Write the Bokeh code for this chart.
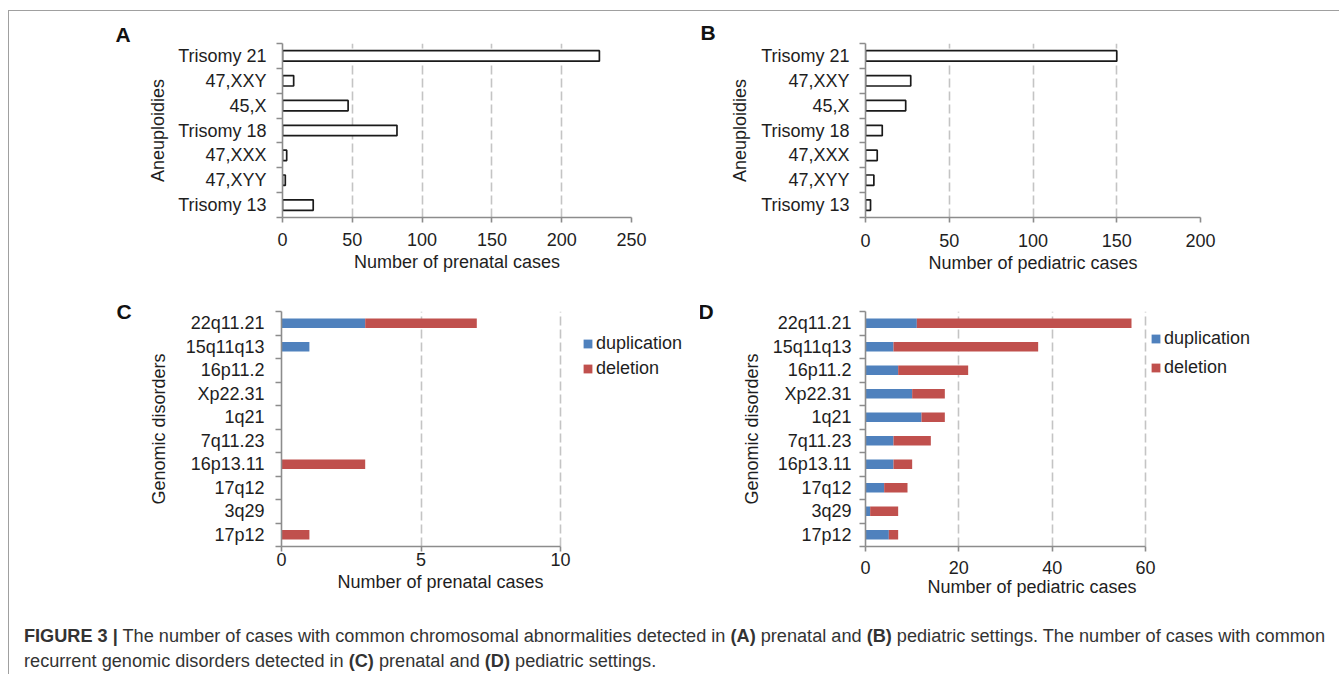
from bokeh.plotting import figure
from bokeh.models import Range1d, FixedTicker, Legend, LegendItem, Div, ColumnDataSource, Title
from bokeh.layouts import column, row
from bokeh.embed import file_html
from bokeh.resources import INLINE

# ---------------- data ----------------
aneuploidies = ["Trisomy 21", "47,XXY", "45,X", "Trisomy 18", "47,XXX", "47,XYY", "Trisomy 13"]
prenatal_aneuploidy = [227, 8, 47, 82, 3, 2, 22]
pediatric_aneuploidy = [150, 27, 24, 10, 7, 5, 3]

disorders = ["22q11.21", "15q11q13", "16p11.2", "Xp22.31", "1q21", "7q11.23",
             "16p13.11", "17q12", "3q29", "17p12"]
prenatal_dup = [3, 1, 0, 0, 0, 0, 0, 0, 0, 0]
prenatal_del = [4, 0, 0, 0, 0, 0, 3, 0, 0, 1]
pediatric_dup = [11, 6, 7, 10, 12, 6, 6, 4, 1, 5]
pediatric_del = [46, 31, 15, 7, 5, 8, 4, 5, 6, 2]

ticks_A = [0, 50, 100, 150, 200, 250]
ticks_B = [0, 50, 100, 150, 200]
ticks_C = [0, 5, 10]
ticks_D = [0, 20, 40, 60]

FONT = "Liberation Sans"
TXT = "#1e1e1e"
AX = "#8c8c8c"
GRID = "#c4c4c4"
BLUE = "#4f81bd"
RED = "#c0504d"


def base_panel(cats, xticks, width, height, bl, br, bt, bb, axis_px, frame_px,
               ytitle, xtitle, ylab_standoff, ytitle_standoff, xlab_standoff, xtitle_standoff,
               letter, letter_offset, letter_standoff, xtitle_offset=None):
    n = len(cats)
    centers = [n - i - 0.5 for i in range(n)]
    # the frame may be wider than the drawn axis (room for a legend); the axis keeps its length
    x_end = xticks[-1] * frame_px / axis_px
    p = figure(width=width, height=height, output_backend="svg", toolbar_location=None,
               x_range=Range1d(0, x_end), y_range=Range1d(0, n),
               min_border_left=bl, min_border_right=br, min_border_top=bt, min_border_bottom=bb)
    p.outline_line_color = None
    p.background_fill_color = None
    p.border_fill_color = None
    p.ygrid.visible = False
    p.xgrid.ticker = FixedTicker(ticks=xticks)
    p.xgrid.grid_line_color = GRID
    p.xgrid.grid_line_width = 1.6
    p.xgrid.grid_line_dash = "9 4"

    p.title.text = letter
    p.title.align = "left"
    p.title.offset = letter_offset
    p.title.standoff = letter_standoff
    p.title.text_font = FONT
    p.title.text_font_size = "21px"
    p.title.text_font_style = "bold"
    p.title.text_color = "#111111"
    p.title.vertical_align = "bottom"

    xa = p.xaxis[0]
    xa.bounds = (xticks[0], xticks[-1])
    xa.ticker = FixedTicker(ticks=xticks)
    xa.axis_line_color = AX
    xa.axis_line_width = 1.6
    xa.major_tick_line_color = AX
    xa.major_tick_line_width = 1.6
    xa.major_tick_out = 5
    xa.major_tick_in = 0
    xa.minor_tick_line_color = None
    xa.major_label_text_font = FONT
    xa.major_label_text_font_size = "18px"
    xa.major_label_text_color = TXT
    xa.major_label_standoff = xlab_standoff
    if xtitle_offset is None:
        xa.axis_label = xtitle
        xa.axis_label_text_font = FONT
        xa.axis_label_text_font_size = "18px"
        xa.axis_label_text_font_style = "normal"
        xa.axis_label_text_color = TXT
        xa.axis_label_standoff = xtitle_standoff
    else:
        # axis title placed under the drawn part of the axis (the frame extends further right)
        p.add_layout(Title(text=xtitle, align="left", offset=xtitle_offset,
                           standoff=xtitle_standoff, text_font=FONT, text_font_size="18px",
                           text_font_style="normal", text_color=TXT), "below")

    ya = p.yaxis[0]
    ya.ticker = FixedTicker(ticks=centers, minor_ticks=list(range(n + 1)))
    ya.major_label_overrides = {c: name for c, name in zip(centers, cats)}
    ya.axis_line_color = AX
    ya.axis_line_width = 1.6
    ya.major_tick_line_color = None
    ya.major_tick_out = 0
    ya.major_tick_in = 0
    ya.minor_tick_line_color = AX
    ya.minor_tick_line_width = 1.6
    ya.minor_tick_out = 6
    ya.minor_tick_in = 0
    ya.major_label_text_font = FONT
    ya.major_label_text_font_size = "18px"
    ya.major_label_text_color = TXT
    ya.major_label_standoff = ylab_standoff
    ya.axis_label = ytitle
    ya.axis_label_text_font = FONT
    ya.axis_label_text_font_size = "18px"
    ya.axis_label_text_font_style = "normal"
    ya.axis_label_text_color = TXT
    ya.axis_label_standoff = ytitle_standoff
    return p, centers


def simple_bars(p, centers, vals):
    src = ColumnDataSource(dict(y=centers, right=vals))
    p.hbar(y="y", left=0, right="right", height=0.42, source=src,
           fill_color="white", line_color="#1a1a1a", line_width=1.7)


def stacked_bars(p, centers, dup, dele, legend_xy, spacing):
    src = ColumnDataSource(dict(y=centers, dup=dup, dele=dele,
                                tot=[a + b for a, b in zip(dup, dele)]))
    r1 = p.hbar(y="y", left=0, right="dup", height=0.4, source=src,
                fill_color=BLUE, line_color=None)
    r2 = p.hbar(y="y", left="dup", right="tot", height=0.4, source=src,
                fill_color=RED, line_color=None)
    leg = Legend(items=[LegendItem(label="duplication", renderers=[r1]),
                        LegendItem(label="deletion", renderers=[r2])],
                 location=legend_xy, orientation="vertical",
                 glyph_width=11, glyph_height=11, label_standoff=3,
                 label_text_font=FONT, label_text_font_size="18px", label_text_color=TXT,
                 border_line_color=None, background_fill_alpha=0,
                 padding=0, margin=0, spacing=spacing, label_height=16)
    p.add_layout(leg)


# Panel A
pA, cA = base_panel(aneuploidies, ticks_A, 691, 279, 273, 69, 32, 70, 349, 349,
                    "Aneuploidies", "Number of prenatal cases", 10, 7, 10, 3,
                    "A", -167, -4)
simple_bars(pA, cA, prenatal_aneuploidy)

# Panel B
pB, cB = base_panel(aneuploidies, ticks_B, 634, 279, 165, 134, 29, 73, 335, 335,
                    "Aneuploidies", "Number of pediatric cases", 10, 8, 11, 3,
                    "B", -165, 0)
simple_bars(pB, cB, pediatric_aneuploidy)

# Panel C
pC, cC = base_panel(disorders, ticks_C, 691, 310, 272, 4, 20, 54, 279, 415,
                    "Genomic disorders", "Number of prenatal cases", 11, 14, 1, 2,
                    "C", -165, -23, xtitle_offset=56)
stacked_bars(pC, cC, prenatal_dup, prenatal_del, (301, 167), 4)

# Panel D
pD, cD = base_panel(disorders, ticks_D, 634, 310, 165, 4, 21, 54, 280, 465,
                    "Genomic disorders", "Number of pediatric cases", 8, 8, 9, -3,
                    "D", -167, -23, xtitle_offset=62)
stacked_bars(pD, cD, pediatric_dup, pediatric_del, (285, 168), 8)

caption = Div(
    text=('<div style="font-family: \'Liberation Sans\', Arial, sans-serif; font-size: 18.15px; '
          'color: #333; line-height: 25px; white-space: nowrap; padding: 19px 0 0 10px;">'
          '<b>FIGURE 3 |</b> The number of cases with common chromosomal abnormalities detected in '
          '<b>(A)</b> prenatal and <b>(B)</b> pediatric settings. The number of cases with common<br>'
          'recurrent genomic disorders detected in <b>(C)</b> prenatal and <b>(D)</b> pediatric settings.'
          '</div>'),
    width=1320, height=64)

layout = column(row(pA, pB), row(pC, pD), caption,
                styles={"border-top": "1px solid #a0a0a0", "border-left": "1px solid #a0a0a0",
                        "margin-top": "10px", "margin-left": "8px"})

open("out.html", "w").write(file_html(layout, INLINE))
